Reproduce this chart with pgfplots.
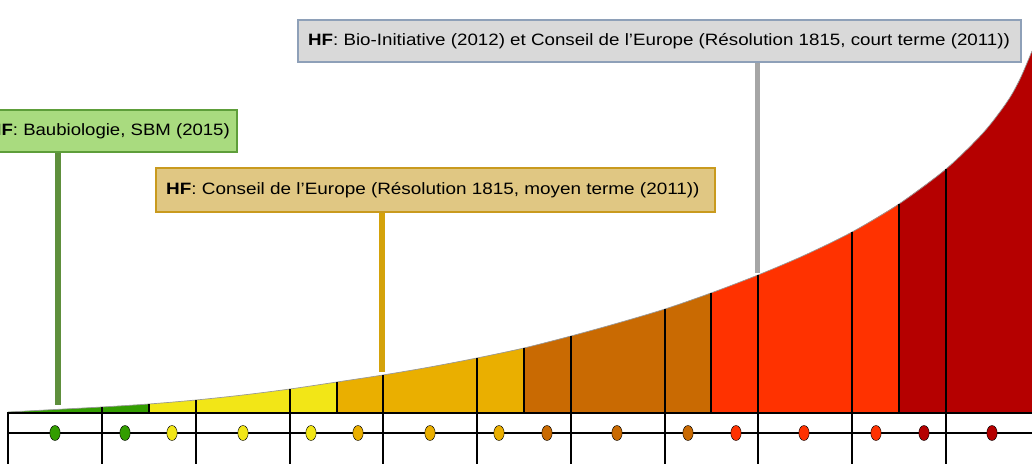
\documentclass[border=0pt]{standalone}
\usepackage{graphicx}
\usepackage{pgfplots}
\pgfplotsset{compat=1.18}
\usepgfplotslibrary{fillbetween}
\usepackage{fontspec}
\setmainfont{Liberation Sans}
\definecolor{cGreen}{HTML}{339E00}
\definecolor{cYellow}{HTML}{F2E617}
\definecolor{cGold}{HTML}{EAAF00}
\definecolor{cOrange}{HTML}{C96A02}
\definecolor{cRed}{HTML}{FF3200}
\definecolor{cDark}{HTML}{B50000}
\definecolor{bGreenF}{HTML}{A9DB7F}
\definecolor{bGreenD}{HTML}{5E9E3A}
\definecolor{bGoldF}{HTML}{E0C783}
\definecolor{bGoldD}{HTML}{C99A1E}
\definecolor{bGrayF}{HTML}{D9D9D9}
\definecolor{bGrayD}{HTML}{8EA0B8}
\definecolor{lGreen}{HTML}{5E8F3C}
\definecolor{lGold}{HTML}{D4A20A}
\definecolor{lGray}{HTML}{A6A6A6}
\pgfplotstableread{
x h
8 1
55 3.5
102 6
149 9
196 13
243 18
290 24
337 31
383 38
430 46
477 55
524 65
571 77
618 90
665 104
711 120
758 138
805 158
852 181
899 209
946 244
983 280
1007 311
1020 334
1032 362
}\curvedata
\newcommand{\boxfont}{\fontsize{16.5}{20}\selectfont}
\newcommand{\segment}[3]{%
  \addplot[name path=seg#1,draw=none,smooth] table[x=x,y=h,restrict x to domain=#2:#3]{\curvedata};
  \addplot[name path=bas#1,draw=none] coordinates {(#2,0)(#3,0)};
  \addplot[fill=#1,draw=none] fill between[of=seg#1 and bas#1];
}
\begin{document}
\begin{tikzpicture}
\begin{axis}[at={(0,0)},anchor=south west,width=1032bp,height=464bp,scale only axis,
  xmin=0,xmax=1032,ymin=-51,ymax=413,axis lines=none,clip=false]
\segment{cGreen}{8}{149}
\segment{cYellow}{149}{337}
\segment{cGold}{337}{524}
\segment{cOrange}{524}{711}
\segment{cRed}{711}{899}
\segment{cDark}{899}{1032}
\addplot[gray!80,line width=0.7bp,smooth] table[x=x,y=h]{\curvedata};
\addplot[ycomb,black,line width=1.3bp] coordinates {(8,1)(102,6)(149,9)(196,13)(290,24)(337,31)(383,38)(477,55)(524,65)(571,77)(665,104)(711,120)(758,138)(852,181)(899,209)(946,244)};
\addplot[black,line width=1.6bp] coordinates {(8,0)(1032,0)};
\addplot[black,line width=1.4bp] coordinates {(8,-20)(1032,-20)};
\addplot[ycomb,black,line width=1.3bp] coordinates {(8,-51)(102,-51)(196,-51)(290,-51)(383,-51)(477,-51)(571,-51)(665,-51)(758,-51)(852,-51)(946,-51)};
\pgfplotsset{dotstyle/.style={only marks,mark=*,mark size=5.2bp,mark options={yscale=1.45,draw=none,fill=#1}}}
\addplot[dotstyle=cGreen] coordinates {(55,-20)(125,-20)};
\addplot[dotstyle=cYellow] coordinates {(172,-20)(243,-20)(311,-20)};
\addplot[dotstyle=cGold] coordinates {(358,-20)(430,-20)(499,-20)};
\addplot[dotstyle=cOrange] coordinates {(547,-20)(617,-20)(688,-20)};
\addplot[dotstyle=cRed] coordinates {(736,-20)(804,-20)(876,-20)};
\addplot[dotstyle=cDark] coordinates {(924,-20)(992,-20)};
\draw[lGreen,line width=6bp] (axis cs:58,262) -- (axis cs:58,8);
\draw[lGold,line width=5.5bp] (axis cs:382,202) -- (axis cs:382,41);
\draw[lGray,line width=5bp] (axis cs:757,352) -- (axis cs:757,140);
\draw[fill=bGreenF,draw=bGreenD,line width=2bp] (axis cs:-25,261) rectangle (axis cs:237,303);
\node[anchor=west,inner sep=0pt] at (axis cs:-12,282) {\boxfont\scalebox{1.13}[1]{\textbf{HF}: Baubiologie, SBM (2015)}};
\draw[fill=bGoldF,draw=bGoldD,line width=2bp] (axis cs:156,201) rectangle (axis cs:715,245);
\node[anchor=west,inner sep=0pt] at (axis cs:166,223) {\boxfont\scalebox{1.15}[1]{\textbf{HF}: Conseil de l’Europe (Résolution 1815, moyen terme (2011))}};
\draw[fill=bGrayF,draw=bGrayD,line width=2bp] (axis cs:298,351) rectangle (axis cs:1021,393);
\node[anchor=west,inner sep=0pt] at (axis cs:308,372) {\boxfont\scalebox{1.14}[1]{\textbf{HF}: Bio-Initiative (2012) et Conseil de l’Europe (Résolution 1815, court terme (2011))}};
\end{axis}
\pgfresetboundingbox
\path[use as bounding box] (0,0) rectangle (1032bp,464bp);
\end{tikzpicture}
\end{document}
